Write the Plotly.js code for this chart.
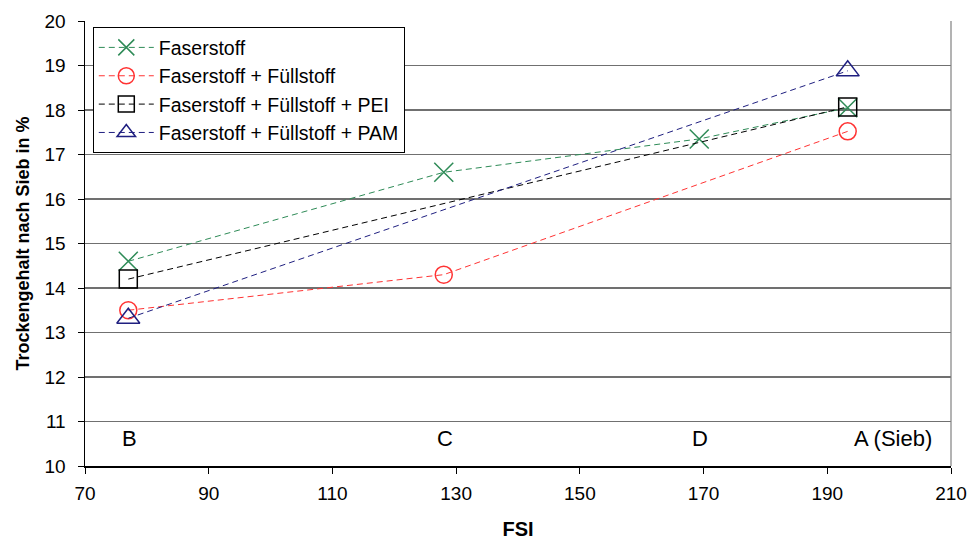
<!DOCTYPE html>
<html><head><meta charset="utf-8">
<script src="https://cdn.plot.ly/plotly-3.0.1.min.js"></script>
<style>body{margin:0;background:#fff}#c{width:979px;height:541px}</style>
</head><body><div id="c"></div>
<script>
const seriesNames = ["Faserstoff", "Faserstoff + Füllstoff", "Faserstoff + Füllstoff + PEI", "Faserstoff + Füllstoff + PAM"];
const fasX = [77, 128, 169.3, 193.3];
const fasY = [14.6, 16.6, 17.35, 18.05];
const fuelX = [77, 128, 193.3];
const fuelY = [13.5, 14.3, 17.52];
const peiX = [77, 193.3];
const peiY = [14.2, 18.07];
const pamX = [77, 193.3];
const pamY = [13.32, 18.88];
const pointLabels = ["B", "C", "D", "A (Sieb)"];
const pointLabelX = [77, 128, 169.3, 193.3];
const pointLabelY = 10.62;
const xTicks = [70, 90, 110, 130, 150, 170, 190, 210];
const yTicks = [10, 11, 12, 13, 14, 15, 16, 17, 18, 19, 20];

const FONT = "Liberation Sans, Arial, sans-serif";
const colors = ["#2E8B57", "#FF3333", "#000000", "#1F1F80"];
const symbols = ["x-thin-open", "circle-open", "square-open", "triangle-up-open"];
const sizes = [19, 17, 18, 20];
const xs = [fasX, fuelX, peiX, pamX];
const ys = [fasY, fuelY, peiY, pamY];

const traces = seriesNames.map((n, i) => ({
  x: xs[i], y: ys[i], name: n, type: "scatter", mode: "lines+markers",
  line: {color: colors[i], width: 1, dash: "6px,4px"},
  marker: {symbol: symbols[i], size: sizes[i], color: colors[i], line: {color: colors[i], width: 1.5}}
}));

const annotations = pointLabels.map((t, i) => ({
  x: pointLabelX[i], y: pointLabelY, xref: "x", yref: "y", text: t, showarrow: false,
  xanchor: i === 3 ? "left" : "center", xshift: i === 3 ? 4 : 1,
  font: {family: FONT, size: 22, color: "#000"}
}));

const layout = {
  width: 979, height: 541,
  margin: {l: 85, r: 28, t: 21, b: 75},
  paper_bgcolor: "#fff", plot_bgcolor: "#fff",
  font: {family: FONT, size: 19, color: "#000"},
  showlegend: true,
  legend: {x: 0.009, y: 0.986, xanchor: "left", yanchor: "top", bgcolor: "#fff",
    bordercolor: "#000", borderwidth: 1, font: {size: 19.5}, itemwidth: 55,
    traceorder: "normal"},
  xaxis: {range: [70, 210], tickvals: xTicks, ticktext: xTicks.map(String),
    showgrid: false, zeroline: false, showline: true, linecolor: "#000", linewidth: 1.5,
    ticks: "outside", ticklen: 6, tickcolor: "#000", mirror: false, ticklabelstandoff: 4,
    title: {text: "<b>FSI</b>", font: {size: 20}, standoff: 18}},
  yaxis: {range: [10, 20], tickvals: yTicks, ticktext: yTicks.map(String),
    showgrid: true, gridcolor: "#707070", gridwidth: 1.2, zeroline: false,
    showline: true, linecolor: "#000", linewidth: 1.5,
    ticks: "outside", ticklen: 6, tickcolor: "#000", ticklabelstandoff: 8,
    title: {text: "<b>Trockengehalt nach Sieb in %</b>", font: {size: 18}, standoff: 10}},
  shapes: [{type: "line", xref: "paper", yref: "paper", x0: 1, x1: 1, y0: 0, y1: 1, line: {color: "#808080", width: 1.2}}],
  annotations: annotations
};
Plotly.newPlot("c", traces, layout, {displayModeBar: false, staticPlot: true});
</script></body></html>
